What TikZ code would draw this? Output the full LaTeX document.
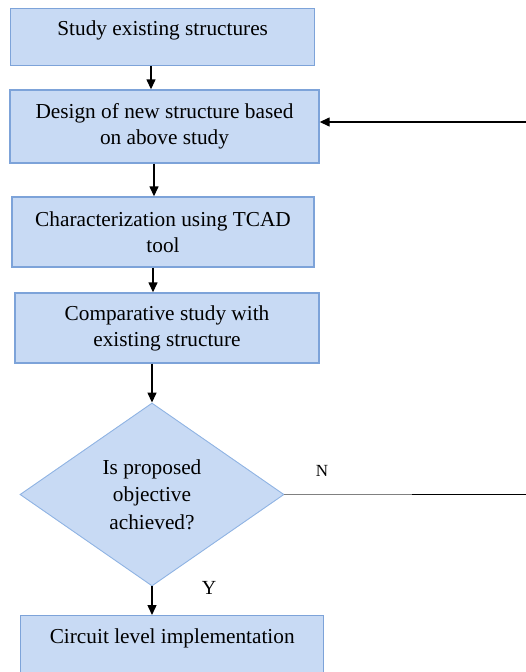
\documentclass[tikz,border=0pt]{standalone}
\usepackage{fontspec}
\setmainfont{Liberation Serif}
\usetikzlibrary{shapes.geometric,arrows.meta}
\definecolor{boxfill}{HTML}{C8DAF4}
\definecolor{boxline}{HTML}{7DA3D9}
\definecolor{dialine}{HTML}{8FB3E3}
\begin{document}
\begin{tikzpicture}[x=1pt,y=-1pt,
  stepbox/.style={draw=boxline, fill=boxfill, line width=1.4pt, rectangle, inner sep=0pt, align=center, font=\fontsize{21.3}{26}\selectfont},
  decision/.style={diamond, draw=dialine, fill=boxfill, line width=0.9pt, inner sep=0pt, align=center, font=\fontsize{21.3}{27.5}\selectfont},
  arr/.style={line width=1.4pt, -{Triangle[width=9pt,length=10pt]}},
  lab/.style={font=\fontsize{17}{17}\selectfont}]
\useasboundingbox (0,0) rectangle (526,672);
\clip (0,0) rectangle (526,672);
\node[stepbox, minimum width=304pt, text height=27pt, text depth=30pt, anchor=north west] (b1) at (10,8) {Study existing structures};
\node[stepbox, minimum width=309pt, minimum height=73pt] (b2) at (164.5,126.5) {Design of new structure based\\on above study};
\node[stepbox, minimum width=302pt, minimum height=70pt] (b3) at (163,232) {Characterization using TCAD\\tool};
\node[stepbox, minimum width=304pt, minimum height=70pt] (b4) at (167,328) {Comparative study with\\existing structure};
\node[decision, minimum width=264pt, minimum height=183pt] (d) at (152,494.5) {Is proposed\\objective\\achieved?};
\node[stepbox, minimum width=303pt, text height=28pt, text depth=55pt, anchor=north west] (b5) at (20,615) {Circuit level implementation};
\coordinate (c1) at (151,0);
\coordinate (c2) at (154,0);
\coordinate (c3) at (153,0);
\coordinate (fb) at (526,122);
\coordinate (nm) at (412,0);
\coordinate (re) at (526,0);
\draw[arr] (b1.south -| c1) -- (b2.north -| c1);
\draw[arr] (b2.south -| c2) -- (b3.north -| c2);
\draw[arr] (b3.south -| c3) -- (b4.north -| c3);
\draw[arr] (b4.south -| d.north) -- (d.north);
\draw[arr] (d.south) -- (b5.north -| d.south);
\draw[arr] (fb) -- (fb -| b2.east);
\draw[gray, line width=1.3pt] (d.east) -- (d.east -| nm);
\draw[line width=1.3pt] (d.east -| nm) -- (d.east -| re);
\node[lab] (nlab) at (322,471) {N};
\node[lab, font=\fontsize{20}{20}\selectfont] (ylab) at (209,588) {Y};
\end{tikzpicture}
\end{document}
